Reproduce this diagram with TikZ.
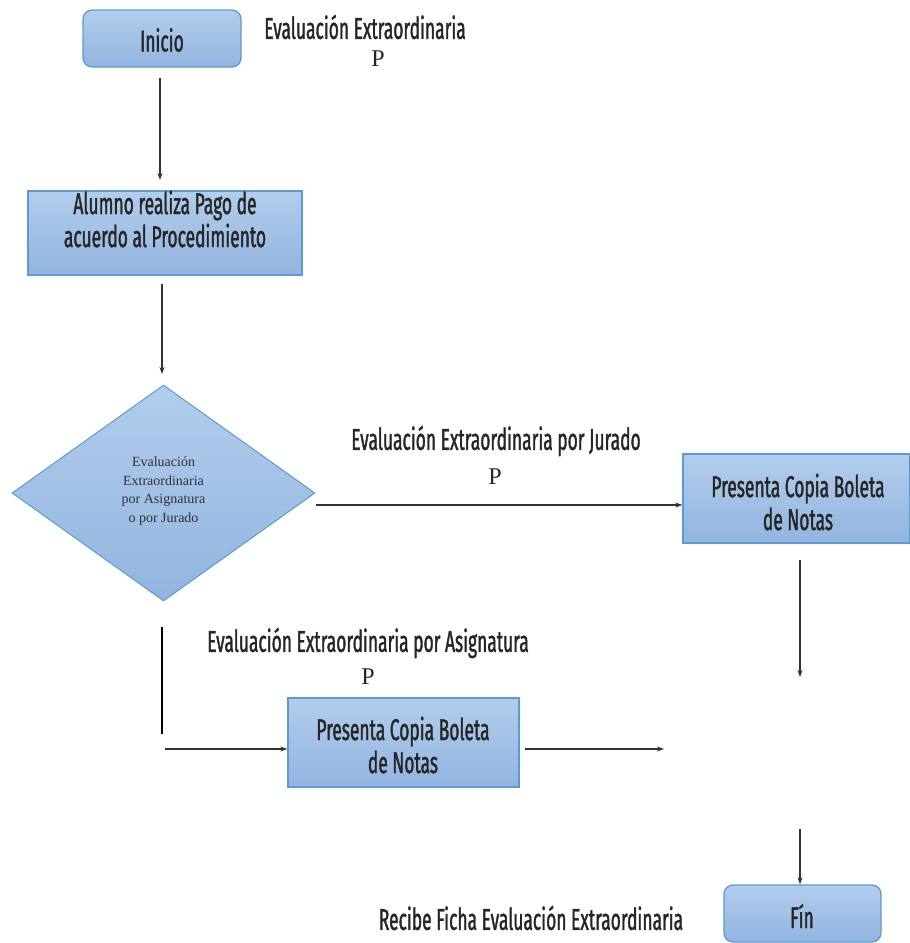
\documentclass[tikz,border=0pt]{standalone}
\usepackage{fontspec}
\usetikzlibrary{shapes.geometric,arrows.meta}
\newfontfamily\condfont[FakeStretch=0.58, FakeBold=1.2]{Fira Sans}
\newfontfamily\serifdiag{Liberation Serif}
\definecolor{boxedge}{HTML}{5B9BD5}
\definecolor{boxtop}{HTML}{B2CDEC}
\definecolor{boxbot}{HTML}{92B4DF}
\definecolor{linegray}{HTML}{333333}
\tikzset{
  flowbox/.style={draw=boxedge, line width=1.3pt, top color=boxtop, bottom color=boxbot, inner sep=0pt},
  roundbox/.style={flowbox, rounded corners=9pt},
  lbl/.style={font=\condfont\fontsize{30}{33}\selectfont, align=center, inner sep=0pt, text=black!85},
  plbl/.style={font=\serifdiag\fontsize{24}{24}\selectfont, inner sep=0pt, text=black!85},
  arr/.style={draw=linegray, line width=1.4pt, -{Stealth[length=7pt,width=5pt]}},
  bar/.style={draw=black, line width=2pt},
}
\begin{document}
\begin{tikzpicture}[x=1pt,y=-1pt]
\useasboundingbox (0,0) rectangle (910,943);

% start
\node[roundbox, minimum width=158, minimum height=57] (inicio) at (162,38.5) {};
\node[lbl] (inicioT) at (162,40) {Inicio};
\node[lbl] (titulo) at (365,27) {Evaluación Extraordinaria};
\node[plbl] (tituloP) at (378,59) {P};

% payment
\node[flowbox, minimum width=274, minimum height=84] (pago) at (165,233) {};
\node[lbl] (pagoT) at (165,219) {Alumno realiza Pago de\\acuerdo al Procedimiento};

% decision
\node[diamond, draw=boxedge, line width=1pt, top color=boxtop, bottom color=boxbot,
      minimum width=303, minimum height=216, aspect=1.4, inner sep=0pt] (decision) at (163.5,493) {};
\node[font=\serifdiag\fontsize{14}{18.5}\selectfont, align=center, text=black!80, inner sep=0pt]
  (decisionT) at (163.5,491) {Evaluación\\Extraordinaria\\por Asignatura\\o por Jurado};

% jury branch
\node[flowbox, minimum width=227, minimum height=89] (jurado) at (796.5,498.5) {};
\node[lbl] (juradoT) at (798,502) {Presenta Copia Boleta\\de Notas};
\node[lbl] (juradoL) at (496,441) {Evaluación Extraordinaria por Jurado};
\node[plbl] (juradoP) at (495,477) {P};

% subject branch
\node[flowbox, minimum width=231, minimum height=89] (asig) at (403.5,742.5) {};
\node[lbl] (asigT) at (403,745) {Presenta Copia Boleta\\de Notas};
\node[lbl] (asigL) at (368,643) {Evaluación Extraordinaria por Asignatura};
\node[plbl] (asigP) at (368,677) {P};

% end
\node[roundbox, minimum width=157, minimum height=57] (fin) at (802.5,913.5) {};
\node[lbl] (finT) at (802,916) {Fín};
\node[lbl] (ficha) at (531,918) {Recibe Ficha Evaluación Extraordinaria};

% free ends of connectors
\coordinate (a1) at (160,78);
\coordinate (a2) at (160,180);
\coordinate (b1) at (162,284);
\coordinate (b2) at (162,374);
\coordinate (c1) at (316,505);
\coordinate (d1) at (800,560);
\coordinate (d2) at (800,677);
\coordinate (e1) at (162,627);
\coordinate (e2) at (162,734);
\coordinate (f1) at (165,749);
\coordinate (g1) at (525,749);
\coordinate (g2) at (664,749);
\coordinate (h1) at (800,829);

% connectors
\draw[arr] (a1) -- (a2);
\draw[arr] (b1) -- (b2);
\draw[arr] (c1) -- (jurado.west |- c1);
\draw[arr] (d1) -- (d2);
\draw[bar] (e1) -- (e2);
\draw[arr] (f1) -- (asig.west |- f1);
\draw[arr] (g1) -- (g2);
\draw[arr] (h1) -- (fin.north -| h1);
\end{tikzpicture}
\end{document}
